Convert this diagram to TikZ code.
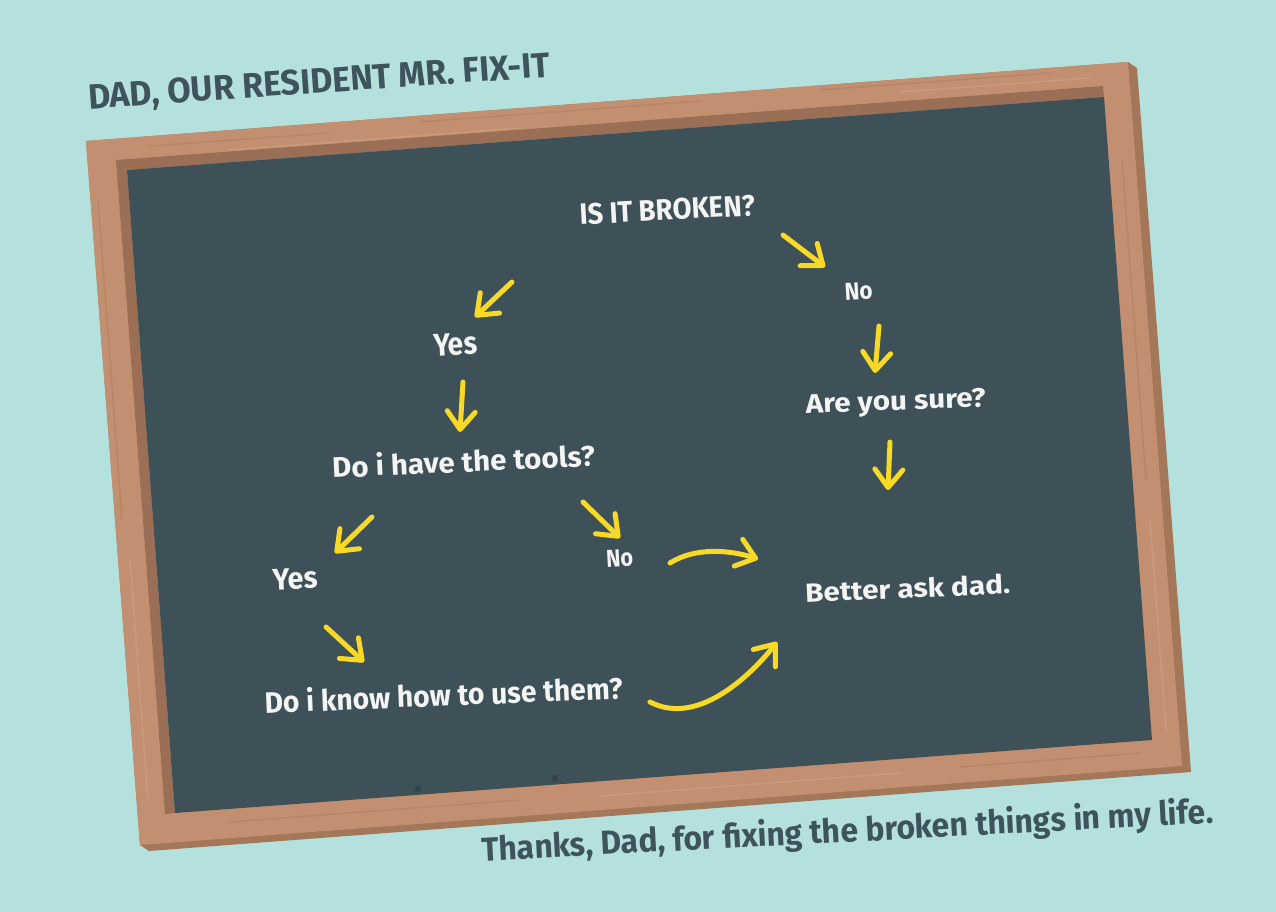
\documentclass[tikz,border=0pt]{standalone}
\usepackage{fontspec}
\setmainfont{Fira Sans}
\usepackage{graphicx}
\usetikzlibrary{arrows.meta}
\definecolor{bgc}{HTML}{B4E1DD}
\definecolor{boardc}{HTML}{3E5159}
\definecolor{framec}{HTML}{C29070}
\definecolor{framedark}{HTML}{A47759}
\definecolor{frameshadow}{HTML}{9A6F55}
\definecolor{grainc}{HTML}{B3805F}
\definecolor{grainl}{HTML}{CFA082}
\definecolor{chalkc}{HTML}{F4F4F2}
\definecolor{yellowc}{HTML}{F7D926}
\definecolor{titlec}{HTML}{3E535B}
\definecolor{dotc}{HTML}{33444B}
\newcommand\fitt[3]{\resizebox{#1pt}{#2pt}{#3}}
\begin{document}
\begin{tikzpicture}[x=1pt,y=-1pt,
  chalk/.style={text=chalkc, font=\bfseries, anchor=base, inner sep=0pt},
  headline/.style={text=titlec, font=\bfseries, anchor=base, inner sep=0pt},
  grain/.style={draw=grainc, line width=1.6pt, line cap=round, opacity=0.6},
  grainlight/.style={draw=grainl, line width=1.6pt, line cap=round, opacity=0.6},
  arr/.style={draw=yellowc, line width=5pt, line cap=round,
    -{Straight Barb[length=18pt,width=28pt,round]}}]
\useasboundingbox (0,0) rectangle (1276,912);
\fill[bgc] (0,0) rectangle (1276,912);
% frame
\fill[framedark] (86,141) -- (1128,62) -- (1137,68) -- (1191,772) -- (149,851) -- (140,845) -- cycle;
\fill[framec] (86,141) -- (1128,62) -- (1182,766) -- (140,845) -- cycle;
% wood grain
\draw[grain] (150,146) -- (330,133);
\draw[grain] (420,122) -- (700,101);
\draw[grainlight] (230,150) -- (520,128);
\draw[grain] (820,90) -- (1050,73);
\draw[grainlight] (900,92) -- (1090,78);
\draw[grain] (98,200) -- (122,520);
\draw[grainlight] (130,560) -- (148,800);
\draw[grain] (1122,160) -- (1146,480);
\draw[grainlight] (1150,520) -- (1166,730);
\draw[grain] (230,822) -- (520,800);
\draw[grainlight] (600,796) -- (900,773);
\draw[grain] (960,767) -- (1140,753);
\fill[frameshadow] (116,160) -- (1103,86) -- (1104,97) -- (127,170) -- (175,813) -- (165,814) -- cycle;
\fill[boardc] (127,170) -- (1104,97) -- (1152,740) -- (175,813) -- cycle;
\fill[dotc] (418,789) circle (3.5);
\fill[dotc] (555,778) circle (3.5);
% texts
\node[headline, rotate=4] (title) at (320,93) {\fitt{463}{25}{DAD, OUR RESIDENT MR. FIX-IT}};
\node[headline, rotate=3] (thanks) at (848,842) {\fitt{732}{27}{Thanks, Dad, for fixing the broken things in my life.}};
\node[chalk, rotate=3] (broken) at (668,220) {\fitt{176}{21}{IS IT BROKEN?}};
\node[chalk, rotate=3] (no1) at (859,300) {\fitt{28}{17}{No}};
\node[chalk, rotate=3] (yes1) at (456,355) {\fitt{44}{22}{Yes}};
\node[chalk, rotate=2] (sure) at (896,410) {\fitt{180}{19}{Are you sure?}};
\node[chalk, rotate=2.6] (tools) at (464,472) {\fitt{263}{23}{Do i have the tools?}};
\node[chalk, rotate=3] (yes2) at (296,589) {\fitt{45}{21}{Yes}};
\node[chalk, rotate=3] (no2) at (620,567) {\fitt{27}{17}{No}};
\node[chalk, rotate=2.5] (better) at (908,598) {\fitt{205}{20}{Better ask dad.}};
\node[chalk, rotate=2.4] (know) at (444,706) {\fitt{358}{24}{Do i know how to use them?}};
% arrow ends
\coordinate (a1s) at (783,235); \coordinate (a1e) at (825,267);
\coordinate (a2s) at (512,282); \coordinate (a2e) at (475,317);
\coordinate (a3s) at (879,326); \coordinate (a3e) at (875,373);
\coordinate (a4s) at (463,382); \coordinate (a4e) at (460,432);
\coordinate (a5s) at (890,442); \coordinate (a5e) at (888,490);
\coordinate (a6s) at (372,517); \coordinate (a6e) at (335,553);
\coordinate (a7s) at (583,502); \coordinate (a7e) at (620,538);
\coordinate (a8s) at (326,627); \coordinate (a8e) at (364,662);
\coordinate (a9s) at (670,563); \coordinate (a9e) at (758,559);
\coordinate (a10s) at (650,702); \coordinate (a10e) at (777,642);
\draw[arr] (a1s) -- (a1e);
\draw[arr] (a2s) -- (a2e);
\draw[arr] (a3s) -- (a3e);
\draw[arr] (a4s) -- (a4e);
\draw[arr] (a5s) -- (a5e);
\draw[arr] (a6s) -- (a6e);
\draw[arr] (a7s) -- (a7e);
\draw[arr] (a8s) -- (a8e);
\draw[arr] (a9s) .. controls (695,547) and (730,550) .. (a9e);
\draw[arr] (a10s) .. controls (700,728) and (755,670) .. (a10e);
\end{tikzpicture}
\end{document}
